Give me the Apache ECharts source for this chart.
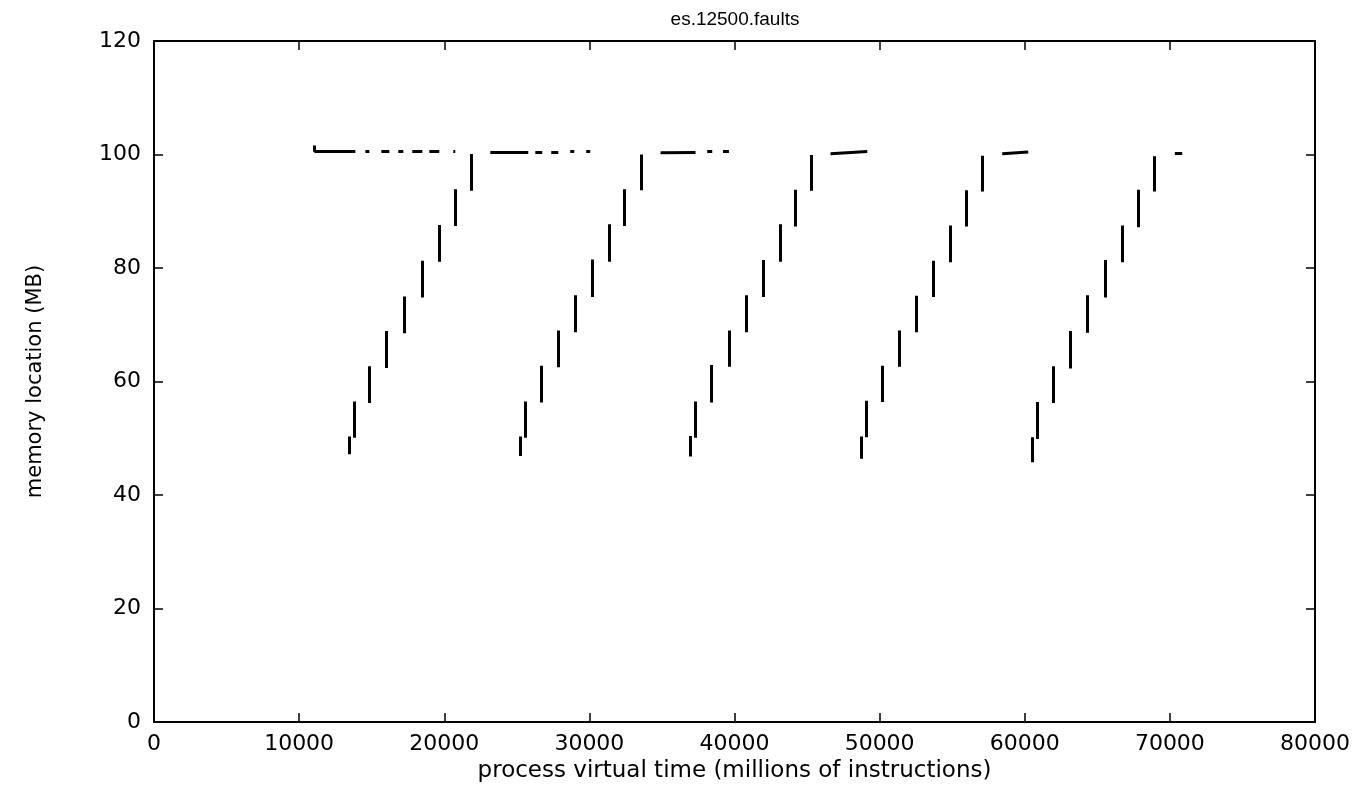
<!DOCTYPE html>
<html><head><meta charset="utf-8">
<script src="https://cdn.jsdelivr.net/npm/echarts@6/dist/echarts.min.js"></script>
<style>html,body{margin:0;padding:0;background:#fff}#c{width:1371px;height:788px}</style>
</head><body><div id="c"></div>
<script>
// ---- text ----
const chartTitle = 'es.12500.faults';
const xAxisName = 'process virtual time (millions of instructions)';
const yAxisName = 'memory location (MB)';

// ---- axis ranges / ticks ----
const xMin = 0, xMax = 80000, xStep = 10000;
const yMin = 0, yMax = 120, yStep = 20;

// ---- vertical fault runs (time, low address, high address) ----
const faultX = [
  13440, 13780, 14855, 16025, 17240, 18460, 19625, 20730, 21855,
  25245, 25560, 26685, 27855, 29020, 30195, 31365, 32420, 33545,
  36980, 37320, 38415, 39635, 40800, 41955, 43120, 44200, 45275,
  48740, 49050, 50155, 51370, 52540, 53705, 54880, 56000, 57080,
  60515, 60850, 61955, 63125, 64320, 65515, 66705, 67830, 68925
];
const faultLo = [
  47.2, 50.1, 56.2, 62.4, 68.5, 74.8, 81.1, 87.4, 93.6,
  46.9, 50.1, 56.3, 62.5, 68.7, 74.9, 81.1, 87.4, 93.7,
  46.8, 50.1, 56.3, 62.6, 68.7, 74.9, 81.1, 87.3, 93.6,
  46.4, 50.2, 56.4, 62.6, 68.7, 74.9, 81.0, 87.3, 93.5,
  45.8, 49.9, 56.2, 62.3, 68.6, 74.8, 81.0, 87.2, 93.5
];
const faultHi = [
  50.3, 56.5, 62.7, 68.9, 75.0, 81.3, 87.6, 93.9, 100.1,
  50.3, 56.5, 62.8, 69.0, 75.2, 81.5, 87.7, 93.9, 100.0,
  50.4, 56.5, 62.9, 69.0, 75.2, 81.4, 87.7, 93.8, 99.9,
  50.3, 56.6, 62.8, 69.0, 75.1, 81.3, 87.5, 93.7, 99.8,
  50.2, 56.4, 62.7, 68.9, 75.2, 81.4, 87.5, 93.8, 99.7
];

// ---- near-horizontal fault runs (start time, end time, start addr, end addr) ----
const runX0 = [11050, 11050, 14565, 15665, 16835, 17800, 18970, 20625,
               23175, 26275, 27375, 28685, 29785,
               34905, 38120, 39205,
               46615,
               58450, 70345];
const runX1 = [11050, 13875, 14840, 16215, 17180, 18490, 19660, 20760,
               25790, 26755, 27860, 28960, 30060,
               37315, 38465, 39615,
               49145,
               60240, 70850];
const runY0 = [100.5, 100.5, 100.5, 100.5, 100.55, 100.55, 100.55, 100.6,
               100.4, 100.45, 100.45, 100.5, 100.5,
               100.3, 100.5, 100.5,
               100.15,
               100.15, 100.3];
const runY1 = [101.6, 100.5, 100.5, 100.5, 100.55, 100.55, 100.55, 100.6,
               100.4, 100.45, 100.45, 100.5, 100.5,
               100.35, 100.5, 100.5,
               100.55,
               100.45, 100.3];

// ---- build series data ----
const segData = [];
for (let i = 0; i < faultX.length; i++) {
  segData.push({ coords: [[faultX[i], faultLo[i]], [faultX[i], faultHi[i]]] });
}
for (let i = 0; i < runX0.length; i++) {
  segData.push({ coords: [[runX0[i], runY0[i]], [runX1[i], runY1[i]]] });
}

const FONT = 'DejaVu Sans';
const axisLineStyle = { color: '#000', width: 2 };
const tickStyle = { show: true, inside: true, length: 9, lineStyle: { color: '#000', width: 1.5 } };

const chart = echarts.init(document.getElementById('c'), null, { renderer: 'canvas' });
chart.setOption({
  animation: false,
  backgroundColor: '#fff',
  title: {
    text: chartTitle, left: 730, top: 5, textAlign: 'center',
    textStyle: { fontFamily: 'Liberation Sans', fontSize: 19, fontWeight: 'normal', color: '#000' }
  },
  grid: { left: 154, right: 56, top: 41, bottom: 60, containLabel: false },
  xAxis: [{
    type: 'value', min: xMin, max: xMax, interval: xStep, position: 'bottom',
    name: xAxisName, nameLocation: 'middle', nameGap: 33,
    nameTextStyle: { fontFamily: FONT, fontSize: 23, color: '#000' },
    axisLine: { show: true, onZero: false, lineStyle: axisLineStyle },
    axisTick: tickStyle,
    axisLabel: { fontFamily: FONT, fontSize: 22, color: '#000', margin: 11,
                 formatter: v => String(v) },
    splitLine: { show: false }
  }, {
    type: 'value', min: xMin, max: xMax, interval: xStep, position: 'top',
    axisLine: { show: true, onZero: false, lineStyle: axisLineStyle },
    axisTick: tickStyle, axisLabel: { show: false }, splitLine: { show: false }
  }],
  yAxis: [{
    type: 'value', min: yMin, max: yMax, interval: yStep, position: 'left',
    name: yAxisName, nameLocation: 'middle', nameGap: 108, nameRotate: 90,
    nameTextStyle: { fontFamily: FONT, fontSize: 21, color: '#000' },
    axisLine: { show: true, onZero: false, lineStyle: axisLineStyle },
    axisTick: tickStyle,
    axisLabel: { fontFamily: FONT, fontSize: 22, color: '#000', margin: 13 },
    splitLine: { show: false }
  }, {
    type: 'value', min: yMin, max: yMax, interval: yStep, position: 'right',
    axisLine: { show: true, onZero: false, lineStyle: axisLineStyle },
    axisTick: tickStyle, axisLabel: { show: false }, splitLine: { show: false }
  }],
  series: [{
    type: 'lines', coordinateSystem: 'cartesian2d', xAxisIndex: 0, yAxisIndex: 0,
    polyline: false, silent: true,
    lineStyle: { color: '#000', width: 3, opacity: 1, cap: 'butt' },
    effect: { show: false },
    data: segData
  }]
});
</script>
</body></html>
